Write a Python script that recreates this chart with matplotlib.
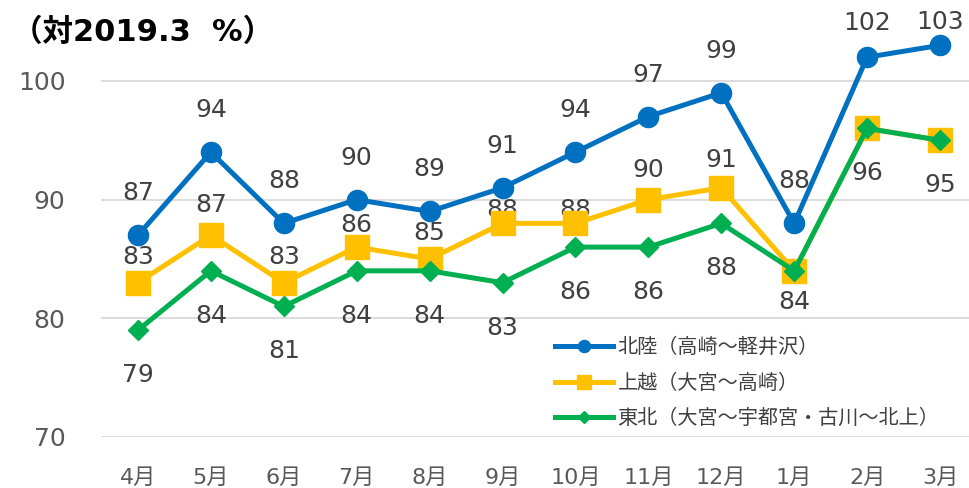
import matplotlib.pyplot as plt
import numpy as np

months = ['4月', '5月', '6月', '7月', '8月', '9月', '10月', '11月', '12月', '1月', '2月', '3月']
hokuriku = [87, 94, 88, 90, 89, 91, 94, 97, 99, 88, 102, 103]
joetsu = [83, 87, 83, 86, 85, 88, 88, 90, 91, 84, 96, 95]
tohoku = [79, 84, 81, 84, 84, 83, 86, 86, 88, 84, 96, 95]
series_names = ['北陸（高崎～軽井沢）', '上越（大宮～高崎）', '東北（大宮～宇都宮・古川～北上）']

# label offsets in pixels (style only)
px = 72 / 100
hok_off = [42] * 10 + [34, 23]
joe_off = [26, 30, 26, 22, 26, 13, 13, 30, 28]
toh_off = [-45] * 9 + [-31, -45, -45]

TXT = '#404040'
NUM_FONT = ['DejaVu Sans', 'Noto Sans CJK JP']

fig = plt.figure(figsize=(9.7, 4.88), dpi=100)
ax = fig.add_axes([101.5 / 970, 51 / 488, 875 / 970, (437 - 21.6) / 488])

x = np.arange(len(months))
ax.plot(x, hokuriku, color='#0070C0', lw=3.6, marker='o', ms=14.5, label=series_names[0], zorder=3)
ax.plot(x, joetsu, color='#FFC000', lw=3.6, marker='s', ms=17, label=series_names[1], zorder=4)
ax.plot(x, tohoku, color='#00B050', lw=3.6, marker='D', ms=10, label=series_names[2], zorder=5)

for i, v in enumerate(hokuriku):
    ax.annotate(str(v), (x[i], v), xytext=(0, hok_off[i] * px), textcoords='offset points',
                ha='center', va='center', fontsize=18, color=TXT, family=NUM_FONT)
for i, off in enumerate(joe_off):
    ax.annotate(str(joetsu[i]), (x[i], joetsu[i]), xytext=(0, off * px), textcoords='offset points',
                ha='center', va='center', fontsize=18, color=TXT, family=NUM_FONT)
for i, v in enumerate(tohoku):
    ax.annotate(str(v), (x[i], v), xytext=(0, toh_off[i] * px), textcoords='offset points',
                ha='center', va='center', fontsize=18, color=TXT, family=NUM_FONT)

ax.set_xlim(-0.5, 11.5)
ax.set_ylim(70, 105)
ax.set_yticks([70, 80, 90, 100])
ax.set_xticks(x)
ax.set_xticklabels(months)
for s in ax.spines.values():
    s.set_visible(False)
ax.grid(axis='y', color='#D9D9D9', lw=1.3)
ax.set_axisbelow(True)
ax.tick_params(length=0)
ax.tick_params(axis='y', pad=26, labelsize=18, labelcolor='#595959')
ax.tick_params(axis='x', pad=22, labelsize=16, labelcolor='#595959')
for t in ax.get_xticklabels() + ax.get_yticklabels():
    t.set_family(NUM_FONT)

leg = ax.legend(loc='upper left', bbox_to_anchor=(537 / 970, (488 - 319) / 488),
                bbox_transform=fig.transFigure, frameon=False, handlelength=2.85,
                handletextpad=0.25, labelspacing=0.72, markerscale=0.6,
                prop={'family': 'Noto Sans CJK JP', 'size': 14.5})
for t in leg.get_texts():
    t.set_color(TXT)

fig.text(12 / 970, (488 - 32) / 488, '（対2019.3  %）', fontsize=22, fontweight='bold',
         family=NUM_FONT, va='center', ha='left', color='#000000')

fig.savefig('out.png', dpi=100)
